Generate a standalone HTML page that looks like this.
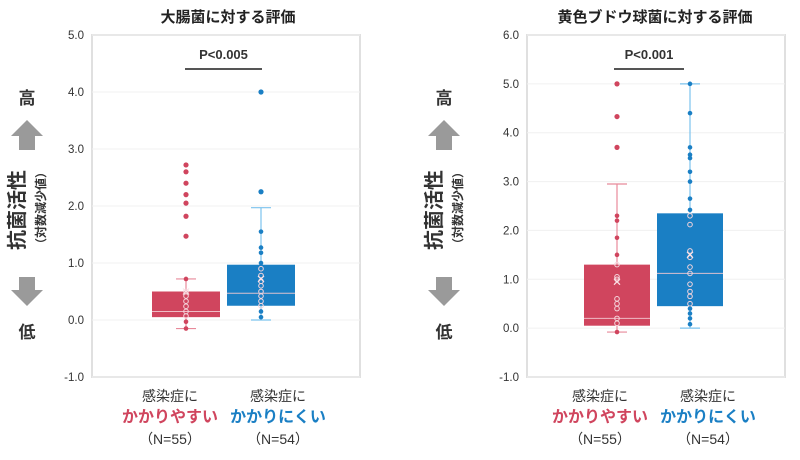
<!DOCTYPE html>
<html><head><meta charset="utf-8">
<style>
html,body{margin:0;padding:0;background:#fff;}
body{width:800px;height:455px;overflow:hidden;font-family:"Liberation Sans","Noto Sans CJK JP",sans-serif;}
</style></head>
<body>
<svg id="svg" width="800" height="455" xmlns="http://www.w3.org/2000/svg" font-family="Liberation Sans, Noto Sans CJK JP, sans-serif"></svg>
<script>
// ---- data ----
const categories = ["かかりやすい","かかりにくい"];
const nLabels = ["（N=55）","（N=54）"];
// chart 1: E. coli
const c1Ticks = [5.0,4.0,3.0,2.0,1.0,0.0,-1.0];
const c1Stats = [ // [whiskerLow, q1, median, q3, whiskerHigh, mean]
  [-0.15,0.05,0.15,0.5,0.72,0.5],
  [0.0,0.25,0.47,0.97,1.97,0.72]];
const c1Outliers = [[2.72,2.6,2.4,2.2,2.05,1.82,1.47],[4.0,2.25]];
const c1Points = [[0.72,0.5,0.42,0.33,0.24,0.15,0.07,-0.03,-0.15],
  [1.55,1.27,1.18,1.0,0.9,0.78,0.68,0.6,0.5,0.42,0.33,0.25,0.15,0.05]];
// chart 2: S. aureus
const c2Ticks = [6.0,5.0,4.0,3.0,2.0,1.0,0.0,-1.0];
const c2Stats = [
  [-0.08,0.05,0.2,1.3,2.95,0.95],
  [0.0,0.45,1.12,2.35,5.0,1.5]];
const c2Outliers = [[5.0,4.33,3.7],[]];
const c2Points = [[2.3,2.2,1.85,1.5,1.3,1.05,1.0,0.6,0.5,0.4,0.2,0.1,-0.08],
  [5.0,4.4,3.7,3.55,3.48,3.2,3.0,2.65,2.42,2.3,2.12,1.58,1.45,1.25,1.12,0.9,0.75,0.65,0.5,0.4,0.3,0.2,0.08]];

const RED="#d0455e", BLUE="#1a7fc4", COLORS=[RED,BLUE];
const svg=document.getElementById('svg');
const NS="http://www.w3.org/2000/svg";
function el(tag,attrs,parent,text){const e=document.createElementNS(NS,tag);for(const k in attrs)e.setAttribute(k,attrs[k]);if(text!==undefined)e.textContent=text;(parent||svg).appendChild(e);return e;}

function drawChart(cfg){
  const g=el('g',{});
  
  
  const {x0,x1,y0,y1,ymax,ymin}=cfg;
  const Y=v=>y0+(ymax-v)/(ymax-ymin)*(y1-y0);
  const fr=el('rect',{x:x0,y:y0,width:x1-x0,height:y1-y0,fill:'#fff',stroke:'#e0e0e0','stroke-width':2},g);
  
  
  cfg.ticks.forEach(t=>{
    const gl=el('line',{x1:x0,x2:x1,y1:Y(t),y2:Y(t),stroke:'#f0f0f0','stroke-width':1},g);
    
    
    const tl=el('text',{x:x0-8,y:Y(t)+4,'text-anchor':'end','font-size':11.5,fill:'#333'},g,t.toFixed(1));
    
    
  });
  cfg.stats.forEach((s,i)=>{
    const cx=cfg.cx[i], hw=cfg.hw, c=COLORS[i];
    const bg=el('g',{},g);
    
    
    const light=i===0?'#e88a9b':'#7cc3ee';
    el('line',{x1:cx,x2:cx,y1:Y(s[0]),y2:Y(s[4]),stroke:light,'stroke-width':1.2},bg);
    el('line',{x1:cx-10,x2:cx+10,y1:Y(s[0]),y2:Y(s[0]),stroke:light,'stroke-width':1.2},bg);
    el('line',{x1:cx-10,x2:cx+10,y1:Y(s[4]),y2:Y(s[4]),stroke:light,'stroke-width':1.2},bg);
    el('rect',{x:cx-hw,y:Y(s[3]),width:2*hw,height:Y(s[1])-Y(s[3]),fill:c},bg);
    el('line',{x1:cx-hw,x2:cx+hw,y1:Y(s[2]),y2:Y(s[2]),stroke:'#f3c9d1','stroke-width':1,opacity:0.9},bg);
    cfg.points[i].forEach(v=>{
      const inBox=v>=s[1]&&v<=s[3];
      const p=el('circle',{cx:cx,cy:Y(v),r:2.3,fill:inBox?'none':c,stroke:inBox?'#f5d5dc':c,'stroke-width':inBox?1:0},bg);
      
      
    });
    cfg.outliers[i].forEach(v=>{
      const p=el('circle',{cx:cx,cy:Y(v),r:2.6,fill:c},bg);
      
      
    });
    const m=Y(s[5]);
    el('path',{d:`M${cx-3} ${m-3}L${cx+3} ${m+3}M${cx+3} ${m-3}L${cx-3} ${m+3}`,stroke:'#fbe3e8','stroke-width':1.2},bg);
    const lx=cfg.lx[i];
    const a=el('text',{x:lx,y:401,'text-anchor':'middle','font-size':14,'font-weight':'normal',fill:'#333'},g,'感染症に');
    
    const b=el('text',{x:lx,y:422,'text-anchor':'middle','font-size':16,'font-weight':'bold',fill:c},g,categories[i]);
    
    const n=el('text',{x:lx,y:444,'text-anchor':'middle','font-size':14,'font-weight':'normal',fill:'#333'},g,nLabels[i]);
    
  });
  const pb=el('line',{x1:cfg.px[0],x2:cfg.px[1],y1:69,y2:69,stroke:'#555','stroke-width':2},g);
  
  const pt=el('text',{x:(cfg.px[0]+cfg.px[1])/2,y:59,'text-anchor':'middle','font-size':13,'font-weight':'bold',fill:'#333'},g,cfg.p);
  
  const ti=el('text',{x:cfg.tx,y:22,'text-anchor':'middle','font-size':15,'font-weight':'bold',fill:'#222'},g,cfg.title);
  
  const ax=cfg.ax;
  const yl=el('g',{},g);
  
  el('text',{x:ax,y:104,'text-anchor':'middle','font-size':17,'font-weight':'bold',fill:'#333'},yl,'高');
  el('path',{d:`M${ax} 120 L${ax+16} 136 L${ax+8} 136 L${ax+8} 150 L${ax-8} 150 L${ax-8} 136 L${ax-16} 136Z`,fill:'#9a9a9a'},yl);
  el('text',{x:0,y:0,'font-size':20,'font-weight':'bold',fill:'#333','text-anchor':'middle',transform:`translate(${ax-3},210) rotate(-90)`},yl,'抗菌活性');
  el('text',{x:0,y:0,'font-size':12,'font-weight':'bold',fill:'#333','text-anchor':'middle',transform:`translate(${ax+18},208) rotate(-90)`},yl,'（対数減少値）');
  el('path',{d:`M${ax-8} 277 L${ax+8} 277 L${ax+8} 290 L${ax+16} 290 L${ax} 306 L${ax-16} 290 L${ax-8} 290Z`,fill:'#9a9a9a'},yl);
  el('text',{x:ax,y:338,'text-anchor':'middle','font-size':17,'font-weight':'bold',fill:'#333'},yl,'低');
}
drawChart({name:'ecoli-chart',x0:92,x1:360,y0:35,y1:377,ymax:5,ymin:-1,ticks:c1Ticks,stats:c1Stats,outliers:c1Outliers,points:c1Points,
  cx:[186,261],hw:34,lx:[170,278],px:[185,262],p:'P<0.005',title:'大腸菌に対する評価',tx:228,ax:27});
drawChart({name:'saureus-chart',x0:527,x1:785,y0:35,y1:377,ymax:6,ymin:-1,ticks:c2Ticks,stats:c2Stats,outliers:c2Outliers,points:c2Points,
  cx:[617,690],hw:33,lx:[600,708],px:[614,684],p:'P<0.001',title:'黄色ブドウ球菌に対する評価',tx:655,ax:444});
</script>
</body></html>
